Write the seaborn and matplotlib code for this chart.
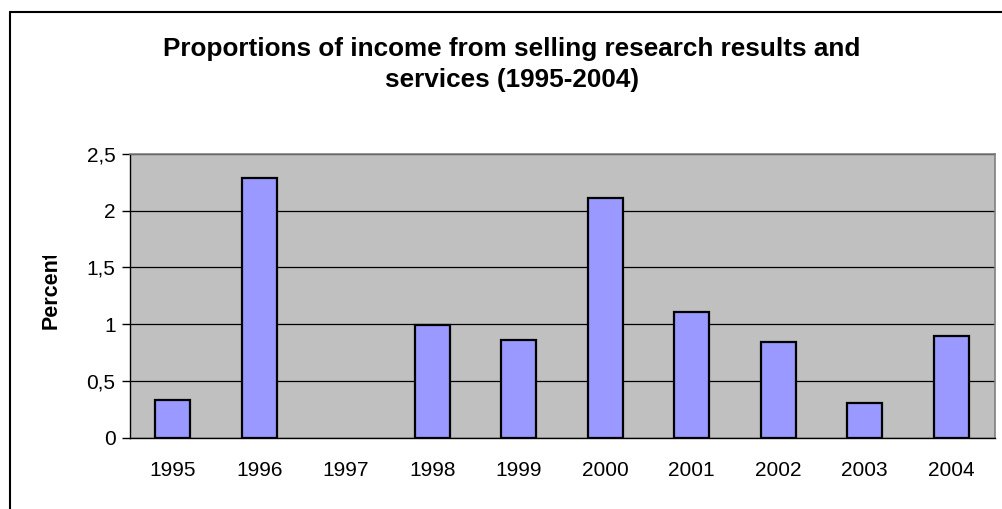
import matplotlib
matplotlib.use("Agg")
import matplotlib.pyplot as plt
from matplotlib.lines import Line2D
from matplotlib.transforms import Bbox, TransformedBbox
import seaborn as sns
import numpy as np
import pandas as pd

# Data (no value reported for 1997)
years = ["1995", "1996", "1997", "1998", "1999", "2000", "2001", "2002", "2003", "2004"]
percent = [0.33, 2.29, np.nan, 0.99, 0.86, 2.11, 1.11, 0.84, 0.31, 0.90]
y_ticks = [0, 0.5, 1, 1.5, 2, 2.5]
y_tick_labels = ["0", "0,5", "1", "1,5", "2", "2,5"]
title = "Proportions of income from selling research results and\nservices (1995-2004)"
y_label = "Percent"

sns.set_theme(style="white")
plt.rcParams["font.family"] = ["Liberation Sans", "DejaVu Sans"]
plt.rcParams["text.color"] = "black"

df = pd.DataFrame({"Year": years, "Percent": percent})

W, H = 1002, 509
fig = plt.figure(figsize=(W / 100, H / 100), dpi=100)
fig.patch.set_facecolor("white")
ax = fig.add_axes([129.5 / W, 1 - 437.7 / H, (994.5 - 129.5) / W, (437.7 - 154) / H])
ax.set_facecolor("#C0C0C0")

sns.barplot(data=df, x="Year", y="Percent", order=years, color="#9999FF", saturation=1,
            width=0.4, edgecolor="black", linewidth=1.6, ax=ax, zorder=3)

ax.set_xlim(-0.5, len(years) - 0.5)
ax.set_ylim(0, 2.5)
ax.set_yticks(y_ticks)
ax.set_yticklabels(y_tick_labels, fontsize=15, color="black")
ax.tick_params(axis="x", which="major", length=0, pad=17, labelsize=15, labelcolor="black")
ax.set_xticks([i - 0.5 for i in range(len(years) + 1)], minor=True)
ax.tick_params(axis="x", which="minor", length=6, width=1, color="black", direction="out")
ax.tick_params(axis="y", which="major", length=6, width=1, color="black", direction="out", pad=4, left=True)
ax.grid(axis="y", color="black", linewidth=0.9, zorder=1)
ax.set_axisbelow(True)

for side in ["left", "bottom"]:
    ax.spines[side].set_color("black")
    ax.spines[side].set_linewidth(1.0)
for side in ["top", "right"]:
    ax.spines[side].set_color("#808080")
    ax.spines[side].set_linewidth(1.2)

ax.set_xlabel("")
ax.set_ylabel("")

# Axis title, cut off at the top like in the original chart object
ylab = fig.text(51 / W, 1 - 329 / H, y_label, rotation=90, ha="center", va="bottom",
                fontsize=15.5, fontweight="bold", color="black")
ylab.set_clip_box(TransformedBbox(Bbox([[0, 0], [1, 1 - 256 / H]]), fig.transFigure))
ylab.set_clip_on(True)

fig.text(512 / W, 1 - 64.5 / H, title, ha="center", va="center", multialignment="center",
         fontsize=18.8, fontweight="bold", linespacing=1.35, color="black")

# Outer chart border (top and left edges)
fig.add_artist(Line2D([10 / W, 1.01], [1 - 11.5 / H, 1 - 11.5 / H], transform=fig.transFigure,
                      color="black", linewidth=1.5))
fig.add_artist(Line2D([10 / W, 10 / W], [-0.01, 1 - 11.5 / H], transform=fig.transFigure,
                      color="black", linewidth=1.5))

fig.savefig("out.png", dpi=100)
